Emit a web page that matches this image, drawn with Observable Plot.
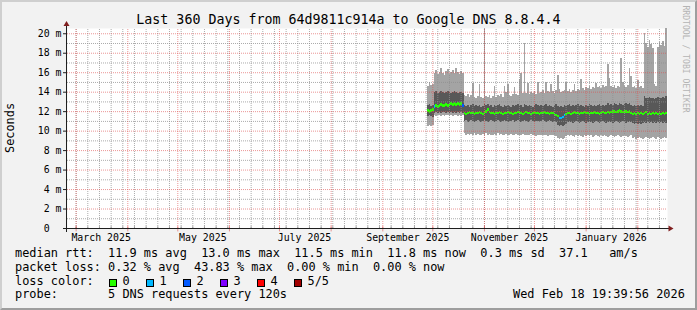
<!DOCTYPE html>
<html><head><meta charset="utf-8">
<script src="https://cdn.jsdelivr.net/npm/d3@7"></script>
<script src="https://cdn.jsdelivr.net/npm/@observablehq/plot@0.6"></script>
<style>
html,body{margin:0;padding:0;background:#f2f2f2;}
#wrap{position:relative;width:697px;height:310px;background:#f2f2f2;overflow:hidden;font-family:"DejaVu Sans Mono",monospace;color:#000;}
#chart{position:absolute;left:0;top:0;}
.t{position:absolute;white-space:pre;line-height:1;font-size:11.9px;}
.box{position:absolute;width:8px;height:8px;box-sizing:border-box;border:1px solid #000;}
#border{position:absolute;left:0;top:0;width:697px;height:310px;box-sizing:border-box;border-style:solid;border-width:2px;border-color:#cfcfcf #9e9e9e #9e9e9e #cfcfcf;pointer-events:none;}
</style></head><body>
<div id="wrap">
  <div id="chart"></div>
  <div id="title" class="t" style="left:0;width:697px;text-align:center;font-size:13.3px;top:12.75px;"></div>
  <div id="ylab" class="t" style="left:-39.1px;top:121.55px;width:100px;text-align:center;transform:rotate(-90deg);"></div>
  <div id="mark" class="t" style="font-size:8.1px;left:631.1px;top:54.65px;width:110px;text-align:center;color:#b4b4b4;transform:rotate(90deg);"></div>
  <div id="legend"></div>
  <div id="border"></div>
</div>
<script>
// ---- time range ----
const startTime = "2025-02-23T19:39:56Z";
const endTime = "2026-02-18T19:39:56Z";
const firstBin = "2025-09-27T18:00:00Z"; // first consolidated (daily) sample shown

// ---- texts ----
const titleText = "Last 360 Days from 64d9811c914a to Google DNS 8.8.4.4";
const yAxisLabel = "Seconds";
const watermark = "RRDTOOL / TOBI OETIKER";
const legendLines = [
  "median rtt:  11.9 ms avg  13.0 ms max  11.5 ms min  11.8 ms now  0.3 ms sd  37.1   am/s",
  "packet loss: 0.32 % avg  43.83 % max  0.00 % min  0.00 % now",
  "loss color:",
  "probe:       5 DNS requests every 120s"
];
const stamp = "Wed Feb 18 19:39:56 2026";
const lossLabels = ["0", "1", "2", "3", "4", "5/5"];
const lossColors = ["#26ff00", "#00b8ff", "#0059ff", "#7e00ff", "#ff0000", "#a10000"];

// ---- axes ----
const yMax = 20.54;
const yLabels = [0, 2, 4, 6, 8, 10, 12, 14, 16, 18, 20];
const minorY = [1, 3, 5, 7, 9, 11, 13, 15, 17, 19];
const majorY = [2, 4, 6, 8, 10, 12, 14, 16, 18, 20];
const monthLines = ["2025-03-01","2025-04-01","2025-05-01","2025-06-01","2025-07-01","2025-08-01","2025-09-01","2025-10-01","2025-11-01","2025-12-01","2026-01-01","2026-02-01"];
const labelMonths = ["2025-03-01","2025-05-01","2025-07-01","2025-09-01","2025-11-01","2026-01-01"];

// ---- data: 5 sorted pings per daily sample (ms) ----
const ping5 = [
14.6,15.0,14.7,14.8,15.9,16.2,15.8,16.0,16.4,15.9,
15.7,16.1,16.3,15.8,16.0,16.2,15.9,16.4,16.0,15.8,
16.1,15.9,13.7,13.6,13.8,13.5,13.7,14.9,13.5,13.4,
13.6,14.8,13.5,13.4,25.0,13.6,13.5,13.7,13.4,13.6,
14.6,13.5,13.7,13.6,13.8,13.5,14.6,14.0,14.8,13.7,
13.6,13.8,14.5,13.8,13.7,15.3,15.9,13.9,19.0,13.9,
14.9,13.8,14.0,13.9,14.1,13.8,15.0,13.9,14.0,14.2,
13.9,15.0,14.1,14.0,14.8,14.1,13.9,14.2,15.7,14.3,
14.0,14.1,14.2,15.0,14.1,14.3,14.0,14.2,14.8,14.1,
14.3,14.2,15.3,14.4,14.2,14.5,14.4,14.6,14.3,14.5,
14.4,14.9,14.5,14.6,14.4,14.7,14.5,14.6,16.8,15.4,
14.6,14.5,14.7,14.4,14.6,14.5,17.5,15.0,14.6,14.5,
14.7,16.4,15.6,14.5,14.6,14.4,15.2,14.5,14.6,14.4,
20.0,19.0,18.6,19.3,18.9,18.5,14.8,14.6,18.6,19.1,
18.8,19.2,18.7,20.5,19.6];
const ping4 = [
12.6,12.7,12.5,12.6,14.0,14.1,13.9,14.0,14.1,14.0,
13.9,14.0,14.1,14.0,13.9,14.0,14.1,14.0,13.9,14.0,
14.0,13.9,12.6,12.5,12.6,12.4,12.6,12.7,12.5,12.6,
12.5,12.6,12.4,12.5,12.7,12.6,12.7,12.5,12.6,12.4,
12.6,12.5,12.6,12.7,12.5,12.4,12.6,12.5,12.6,12.5,
12.4,12.6,12.5,12.6,12.7,12.5,12.6,12.4,12.7,12.6,
12.5,12.6,12.5,12.4,12.6,12.7,12.6,12.5,12.6,12.5,
12.6,12.7,12.5,12.6,12.5,12.4,12.6,12.7,12.5,12.4,
12.5,12.4,12.6,12.5,12.6,12.7,12.5,12.6,12.5,12.6,
12.7,12.5,12.6,12.5,12.4,12.6,12.5,12.7,12.6,12.5,
12.6,12.5,12.6,12.7,12.5,12.6,12.5,12.6,12.8,12.6,
12.7,12.6,12.8,12.7,12.6,12.8,12.7,12.6,12.7,12.8,
12.7,12.8,12.6,12.5,12.6,12.5,12.6,12.5,12.6,12.5,
13.6,13.4,13.3,13.5,13.4,13.3,13.2,13.3,13.5,13.4,
13.3,13.5,13.4,13.6,13.4];
const medianRtt = [
12.1,12.0,12.1,12.2,12.5,12.6,12.5,12.6,12.7,12.6,
12.6,12.7,12.6,12.7,12.8,12.7,12.8,12.7,12.8,12.7,
12.8,12.6,11.8,11.7,11.8,11.9,11.8,11.8,11.7,11.8,
11.8,11.9,11.8,11.7,11.8,12.0,12.2,11.9,11.8,11.8,
11.7,11.8,11.8,11.9,11.8,11.7,11.8,11.8,11.9,11.8,
11.8,11.7,11.8,11.8,11.9,11.8,11.8,11.7,11.8,11.9,
11.8,11.8,11.7,11.8,11.9,11.8,11.8,11.7,11.8,11.8,
11.9,11.8,11.8,11.7,11.8,11.8,11.7,11.6,11.5,11.3,
11.3,11.4,11.6,11.7,11.8,11.8,11.7,11.8,11.9,11.8,
11.8,11.7,11.8,11.8,11.9,11.8,11.8,11.7,11.8,11.8,
11.9,11.8,11.8,11.7,11.8,11.9,11.8,11.8,11.9,11.8,
11.9,12.0,12.0,11.9,12.0,12.1,12.0,11.9,12.0,12.0,
11.9,12.0,11.8,11.7,11.8,11.7,11.8,11.7,11.8,11.7,
11.8,11.9,11.7,11.8,11.7,11.8,11.7,11.8,11.7,11.8,
11.7,11.8,11.7,11.8,11.7];
const ping2 = [
11.5,11.6,11.5,11.4,11.8,11.9,11.8,11.9,11.8,11.9,
11.9,11.8,11.9,11.8,11.9,11.8,11.9,11.8,11.9,11.8,
11.9,11.8,11.0,11.1,10.9,11.0,11.1,11.0,10.9,11.0,
11.1,11.0,10.9,11.0,11.1,11.0,10.9,11.0,11.1,11.0,
10.9,11.0,11.1,11.0,10.9,11.0,11.1,11.0,10.9,11.0,
11.0,11.1,10.9,11.0,11.1,11.0,10.9,11.0,11.1,11.0,
10.9,11.0,11.1,11.0,10.9,11.0,11.0,10.9,11.0,11.1,
11.0,10.9,11.0,11.1,11.0,10.9,11.0,10.9,10.6,10.5,
10.6,10.5,10.6,10.7,10.9,11.0,10.9,10.8,10.9,11.0,
10.9,10.8,10.9,11.0,10.9,10.8,10.9,11.0,10.9,10.8,
10.9,11.0,10.9,10.8,10.9,11.0,10.9,10.8,10.9,11.0,
10.9,10.8,10.9,11.0,10.9,10.8,10.9,11.0,10.9,10.8,
10.9,11.0,10.9,10.8,10.7,10.8,10.7,10.8,10.7,10.8,
10.9,10.8,10.9,10.8,10.9,10.8,10.9,10.8,10.9,10.8,
10.9,10.8,10.9,10.8,10.9];
const ping1 = [
10.5,10.6,10.5,10.6,11.6,11.5,11.6,11.6,11.5,11.6,
11.5,11.6,11.6,11.5,11.6,11.5,11.6,11.6,11.5,11.6,
11.5,11.6,9.8,9.6,9.7,9.5,9.7,9.6,9.8,9.6,
9.7,9.5,9.6,9.7,9.6,9.8,9.6,9.7,9.5,9.6,
9.7,9.6,9.8,9.6,9.7,9.5,9.6,9.7,9.6,9.5,
9.7,9.6,9.5,9.7,9.6,9.5,9.6,9.7,9.5,9.6,
9.5,9.6,9.7,9.5,9.6,9.4,9.6,9.5,9.6,9.5,
9.6,9.5,9.4,9.6,9.5,9.6,9.5,9.4,9.2,9.1,
9.2,9.1,9.2,9.4,9.5,9.4,9.5,9.4,9.3,9.5,
9.4,9.5,9.4,9.3,9.5,9.4,9.5,9.4,9.5,9.3,
9.4,9.5,9.4,9.3,9.5,9.4,9.5,9.4,9.3,9.4,
9.5,9.4,9.3,9.4,9.5,9.4,9.3,9.4,9.5,9.4,
9.3,9.4,9.5,9.2,9.3,9.1,9.2,9.3,9.2,9.1,
9.2,9.3,9.2,9.1,9.2,9.3,9.2,9.1,9.3,9.2,
9.1,9.2,9.3,9.2,9.1];
const lostPings = [
0,0,0,0,1,0,0,0,0,0, 0,0,0,0,0,0,0,0,0,0,
0,2,0,0,0,0,0,0,0,0, 0,0,0,0,0,0,0,0,0,0,
0,0,0,0,0,0,0,0,0,0, 0,0,0,0,0,0,0,0,0,0,
0,0,0,0,0,0,0,0,0,0, 0,0,0,0,0,0,0,0,0,1,
1,1,1,0,0,0,0,0,0,0, 0,0,0,0,0,0,0,0,0,0,
0,0,0,0,0,0,0,0,0,0, 0,0,0,0,0,0,0,0,0,0,
0,0,0,0,0,0,0,0,0,0, 0,0,0,0,0,0,0,0,0,0,
0,0,0,0,0,0,0,0,0,0, 0,0,0,0,0];

// ---- build table ----
const t0 = new Date(firstBin);
const rows = ping1.map((v, i) => ({
  a: d3.utcDay.offset(t0, i), b: d3.utcDay.offset(t0, i + 1),
  p1: v, p2: ping2[i], med: medianRtt[i], p4: ping4[i], p5: ping5[i], loss: lostPings[i]
}));
const start = new Date(startTime), end = new Date(endTime);
const weeks = d3.utcSaturday.range(start, end);
const months = monthLines.map(s => new Date(s + "T00:00:00Z"));
const labelDates = labelMonths.map(s => d3.utcDay.offset(new Date(s + "T00:00:00Z"), 15));
const fmtMonth = d3.utcFormat("%B %Y");
const GRID = "rgba(143,143,143,0.75)";
const MGRID = "rgba(222,79,79,0.6)";
const sw = 0.14;

const chart = Plot.plot({
  width: 697, height: 310,
  marginLeft: 67, marginRight: 30, marginTop: 28, marginBottom: 82,
  style: {background: "transparent", fontFamily: "'DejaVu Sans Mono', monospace", fontSize: "9.9px", color: "#000", overflow: "visible"},
  x: {type: "utc", domain: [start, end], range: [67, 667], axis: null},
  y: {domain: [0, yMax], range: [228, 28], axis: null},
  color: {type: "identity"},
  marks: [
    Plot.frame({fill: "#ffffff", stroke: "none"}),
    Plot.rect(rows, {x1: "a", x2: "b", y1: "p1", y2: "p5", fill: "#a4a4a4", clip: true, shapeRendering: "crispEdges"}),
    Plot.rect(rows, {x1: "a", x2: "b", y1: "p2", y2: "p4", fill: "#585858", clip: true, shapeRendering: "crispEdges"}),
    Plot.rect(rows, {x1: "a", x2: "b", y1: d => d.med - sw, y2: d => d.med + sw, fill: d => lossColors[d.loss], clip: true, shapeRendering: "crispEdges"}),
    // grid
    Plot.ruleY(minorY, {stroke: GRID, strokeDasharray: "1,1"}),
    Plot.ruleX(weeks, {y1: 0, y2: yMax, stroke: GRID, strokeDasharray: "1,1"}),
    Plot.ruleX(weeks, {y1: 0, y2: 0.2, stroke: GRID}),
    Plot.ruleY(majorY, {stroke: MGRID, strokeDasharray: "1,1"}),
    Plot.ruleX(months, {y1: 0, y2: yMax, stroke: MGRID, strokeDasharray: "1,1"}),
    Plot.ruleX(months, {y1: -0.35, y2: 0.2, stroke: MGRID}),
    // axes
    Plot.axisY(yLabels, {tickSize: 4, tickPadding: 2, stroke: "#1f1f1f", tickFormat: d => d === 0 ? "0\u00a0\u00a0" : d + " m"}),
    Plot.axisX(labelDates, {tickSize: 0, tickPadding: 5.5, tickFormat: d => fmtMonth(d3.utcDay.offset(d, -15))})
  ]
});
document.getElementById("chart").appendChild(chart);

// axis lines + arrows from the scales
const sx = chart.scale("x"), sy = chart.scale("y");
const X0 = sx.range[0], X1 = sx.range[1], Yb = sy.range[0], Yt = sy.range[1];
const svg = d3.select(chart);
const g = svg.append("g");
g.append("line").attr("x1", X0 - 4).attr("x2", X1 + 3).attr("y1", Yb + 0.5).attr("y2", Yb + 0.5).attr("stroke", "#1f1f1f");
g.append("line").attr("x1", X0 - 0.5).attr("x2", X0 - 0.5).attr("y1", Yb + 4).attr("y2", Yt - 3).attr("stroke", "#1f1f1f");
g.append("path").attr("d", `M${X0 - 3.5},${Yt - 2}L${X0 - 0.5},${Yt - 7}L${X0 + 2.5},${Yt - 2}Z`).attr("fill", "#801f1f");
g.append("path").attr("d", `M${X1 + 1.5},${Yb - 2.5}L${X1 + 6.5},${Yb + 0.5}L${X1 + 1.5},${Yb + 3.5}Z`).attr("fill", "#801f1f");

// texts
document.getElementById("title").textContent = titleText;
document.getElementById("ylab").textContent = yAxisLabel;
document.getElementById("mark").textContent = watermark;
const leg = document.getElementById("legend");
const tops = [248.4, 261.9, 275.5, 289.1];
legendLines.forEach((s, i) => {
  const d = document.createElement("div");
  d.className = "t"; d.style.left = "15px"; d.style.top = tops[i] + "px"; d.textContent = s;
  leg.appendChild(d);
});
lossLabels.forEach((lab, k) => {
  const b = document.createElement("div");
  b.className = "box"; b.style.left = (108.5 + 37 * k) + "px"; b.style.top = "279px"; b.style.background = lossColors[k];
  leg.appendChild(b);
  const d = document.createElement("div");
  d.className = "t"; d.style.left = (122.5 + 37 * k) + "px"; d.style.top = tops[2] + "px"; d.textContent = lab;
  leg.appendChild(d);
});
const st = document.createElement("div");
st.className = "t"; st.style.left = "513px"; st.style.top = tops[3] + "px"; st.textContent = stamp;
leg.appendChild(st);
</script>
</body></html>
